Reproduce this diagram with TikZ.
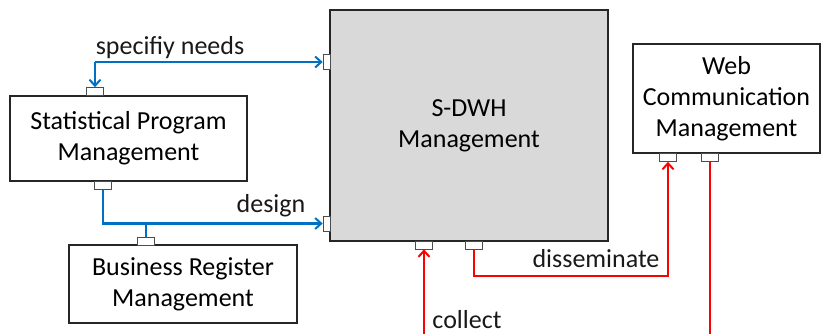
\documentclass[tikz,border=0pt]{standalone}
\usepackage{fontspec}
\setmainfont{Carlito}
\usetikzlibrary{arrows.meta}
\definecolor{flowblue}{RGB}{0,112,192}
\definecolor{boxgray}{RGB}{217,217,217}
\begin{document}
\begin{tikzpicture}[x=1pt,y=-1pt,
  every node/.style={font=\fontsize{26}{31}\selectfont, inner sep=0pt},
  mgmt/.style={draw=black!85, line width=1.4pt, fill=white, align=center},
  port/.style={draw=black!70, line width=0.7pt, fill=white, minimum width=#1},
  hport/.style={port=17pt, minimum height=8pt},
  vport/.style={port=7pt, minimum height=15pt},
  blueflow/.style={draw=flowblue, line width=2.2pt},
  redflow/.style={draw=red, line width=2.2pt},
  tip/.style={-{Straight Barb[length=6pt,width=11pt,line width=2pt]}},
  lbl/.style={text=black!90}]
\useasboundingbox (0,0) rectangle (825,334);

% main boxes
\node[mgmt, fill=boxgray, minimum width=278pt, minimum height=231pt] (dwh) at (469,125.5) {S-DWH\\Management};
\node[mgmt, minimum width=237pt, minimum height=85pt] (spm) at (128.5,138.5) {Statistical Program\\Management};
\node[mgmt, minimum width=228pt, minimum height=78pt] (brm) at (183,284) {Business Register\\Management};
\node[mgmt, minimum width=187pt, minimum height=109pt] (wcm) at (726.5,98.5) {Web\\Communication\\Management};

% interface ports
\node[vport] (dwhL1) at (326.5,62) {};
\node[vport] (dwhL2) at (326.5,223.5) {};
\node[hport] (dwhB1) at (424,245) {};
\node[hport] (dwhB2) at (474,245) {};
\node[hport] (spmT) at (95,91.5) {};
\node[hport] (spmB) at (103,185.5) {};
\node[hport] (brmT) at (146,241) {};
\node[hport] (wcmB1) at (668,157.5) {};
\node[hport] (wcmB2) at (710,157.5) {};

% free ends at the page edge
\coordinate (collectIn) at (424,340);
\coordinate (webOut) at (710,340);

% blue flows
\coordinate (needsCorner) at (spmT |- dwhL1);
\draw[blueflow, tip] (needsCorner) -- (dwhL1.west);
\draw[blueflow, tip] (needsCorner) -- (spmT.north);
\coordinate (designCorner) at (spmB |- dwhL2);
\draw[blueflow, tip] (spmB.south) -- (designCorner) -- (dwhL2.west);
\draw[blueflow] (brmT |- dwhL2) -- (brmT.north);

% red flows
\draw[redflow, tip] (collectIn) -- (dwhB1.south);
\coordinate (dissA) at (474,276);
\coordinate (dissB) at (wcmB1 |- dissA);
\draw[redflow, tip] (dwhB2.south) -- (dissA) -- (dissB) -- (wcmB1.south);
\draw[redflow] (wcmB2.south) -- (webOut);

% flow labels
\node[lbl] (lneeds) at (170,48) {specifiy needs};
\node[lbl] (ldesign) at (271,206) {design};
\node[lbl] (ldiss) at (596,259) {disseminate};
\node[lbl] (lcollect) at (467,320) {collect};
\end{tikzpicture}
\end{document}
